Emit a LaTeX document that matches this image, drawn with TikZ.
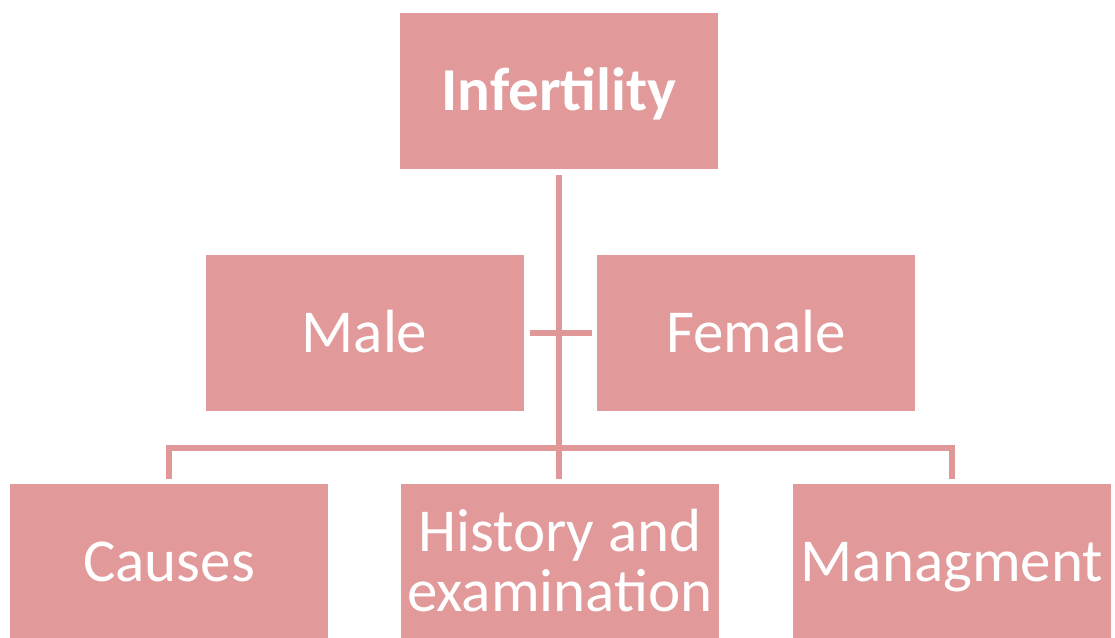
\documentclass[tikz,border=0pt]{standalone}
\usepackage{fontspec}
\setmainfont{Carlito}
\definecolor{boxpink}{RGB}{225,153,154}
\definecolor{linepink}{RGB}{223,151,152}
\begin{document}
\begin{tikzpicture}[x=1pt,y=-1pt,
  box/.style={rectangle, fill=boxpink, draw=none, minimum width=318pt, minimum height=156pt,
    inner sep=0pt, text=white, font=\fontsize{61}{60}\selectfont,
    text height=39pt, text depth=0pt, align=center},
  conn/.style={draw=linepink, line width=6pt, line join=miter, line cap=butt}]
\useasboundingbox (0,0) rectangle (1115,637);
\node[box, font=\bfseries\fontsize{61}{60}\selectfont] (inf) at (559,91) {Infertility};
\node[box] (male) at (364.5,332.5) {Male};
\node[box] (female) at (756,332.5) {Female};
\node[box] (causes) at (169,562) {Causes};
\node[box, text height=99pt] (hist) at (560,562) {History and\\examination};
\node[box] (mgmt) at (952,562) {Managment};
\draw[conn] ([yshift=-6pt]inf.south) -- ([yshift=5pt]inf.south |- hist.north);
\draw[conn] ([xshift=6pt]male.east) -- ([xshift=-5pt]female.west);
\draw[conn] ([yshift=5pt]causes.north) |- ([yshift=36pt]hist.north) -| ([yshift=5pt]mgmt.north);
\end{tikzpicture}
\end{document}
